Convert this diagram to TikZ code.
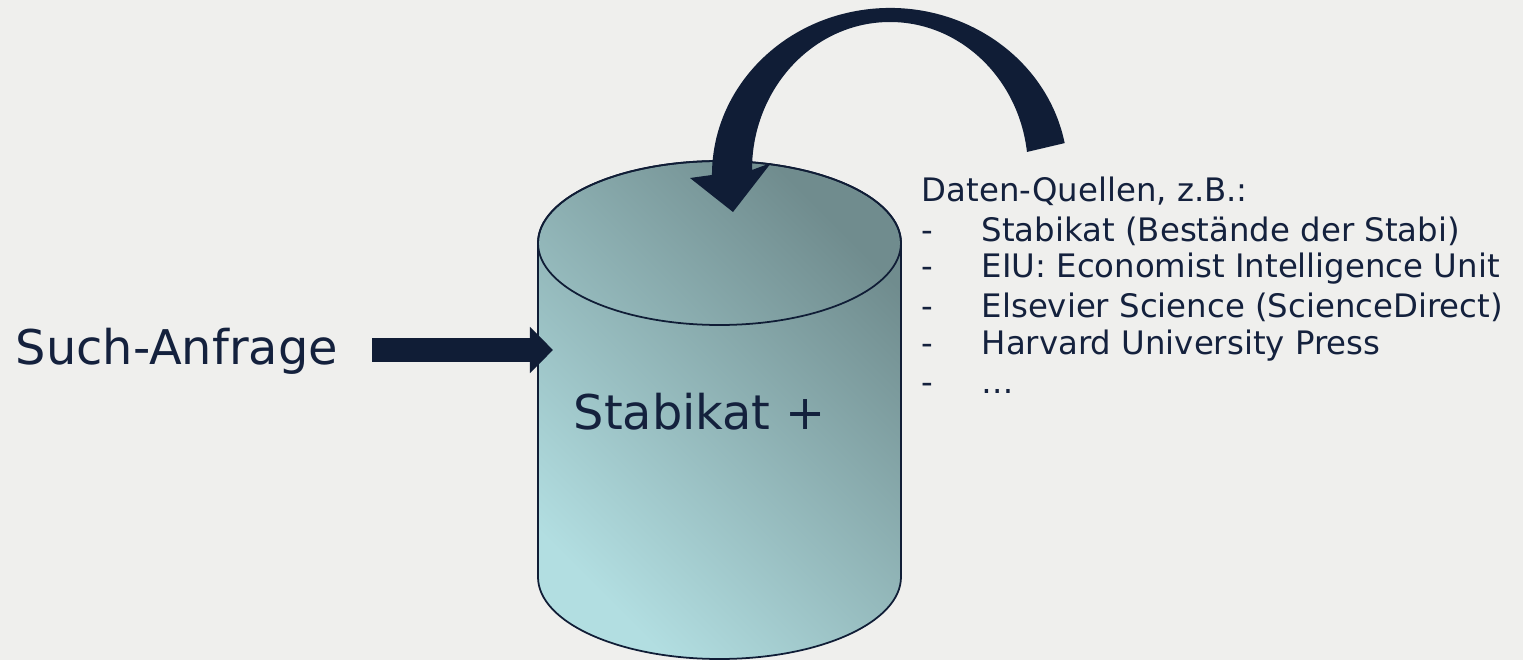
\documentclass[tikz,border=0pt]{standalone}
\usepackage{fontspec}
\setmainfont{DejaVu Sans}
\usepackage{tikz}
\usetikzlibrary{arrows.meta}

\definecolor{bgcolor}{RGB}{239,239,237}
\definecolor{navy}{RGB}{16,29,54}
\definecolor{textnavy}{RGB}{20,33,61}
\definecolor{dblight}{RGB}{178,222,225}
\definecolor{dbdark}{RGB}{112,140,142}

\newcommand{\listdash}{\makebox[0.6cm][l]{-}}

\begin{document}
\begin{tikzpicture}[x=0.01cm, y=0.01cm,
        big_text_style/.style={inner sep=0pt, text=textnavy, font=\fontsize{13.6}{16}\selectfont, anchor=base west},
        source_style/.style={inner sep=0pt, text=textnavy, font=\fontsize{9.2}{11}\selectfont, anchor=base west},
        db_style/.style={top color=dbdark, bottom color=dblight, shading angle=-45},
        db_line_style/.style={draw=navy, line width=0.5pt},
        query_arrow_style/.style={draw=navy, line width=0.23cm, -{Triangle[length=0.23cm, width=0.45cm]}}]

        % background
        \useasboundingbox (0,0) rectangle (1523,660);
        \fill[bgcolor] (0,0) rectangle (1523,660);

        % database
        \shade[db_style] (538,417) -- (538,83) arc[start angle=180, end angle=360, x radius=181.5, y radius=82]
            -- (901,417) arc[start angle=0, end angle=180, x radius=181.5, y radius=82] -- cycle;
        \draw[db_line_style] (538,417) -- (538,83) arc[start angle=180, end angle=360, x radius=181.5, y radius=82]
            -- (901,417) arc[start angle=0, end angle=180, x radius=181.5, y radius=82];
        \draw[db_line_style] (719.5,417) ellipse[x radius=181.5, y radius=82];

        \node [big_text_style](db_label) at (573,230) {Stabikat +};

        % query
        \node [big_text_style](query) at (15,295) {Such-Anfrage};
        \coordinate (query_tail) at (372,310);
        \coordinate (query_tip) at (553,310);
        \draw [query_arrow_style] (query_tail) -- (query_tip);

        % curved arrow into the database
        \fill[navy] (1064.7,516.9) arc[start angle=11, end angle=180, x radius=178, y radius=167]
            -- (690,482) -- (733,448) -- (771,497) -- (752,490)
            arc[start angle=180, end angle=7, x radius=138, y radius=148] -- cycle;

        % sources
        \node [source_style](src0) at (921,458) {Daten-Quellen, z.B.:};

        \node [source_style](src1) at (921,419) {\listdash Stabikat (Bestände der Stabi)};

        \node [source_style](src2) at (921,382) {\listdash EIU: Economist Intelligence Unit};

        \node [source_style](src3) at (921,343) {\listdash Elsevier Science (ScienceDirect)};

        \node [source_style](src4) at (921,305) {\listdash Harvard University Press};

        \node [source_style](src5) at (921,266) {\listdash …};

        \end{tikzpicture}
\end{document}
